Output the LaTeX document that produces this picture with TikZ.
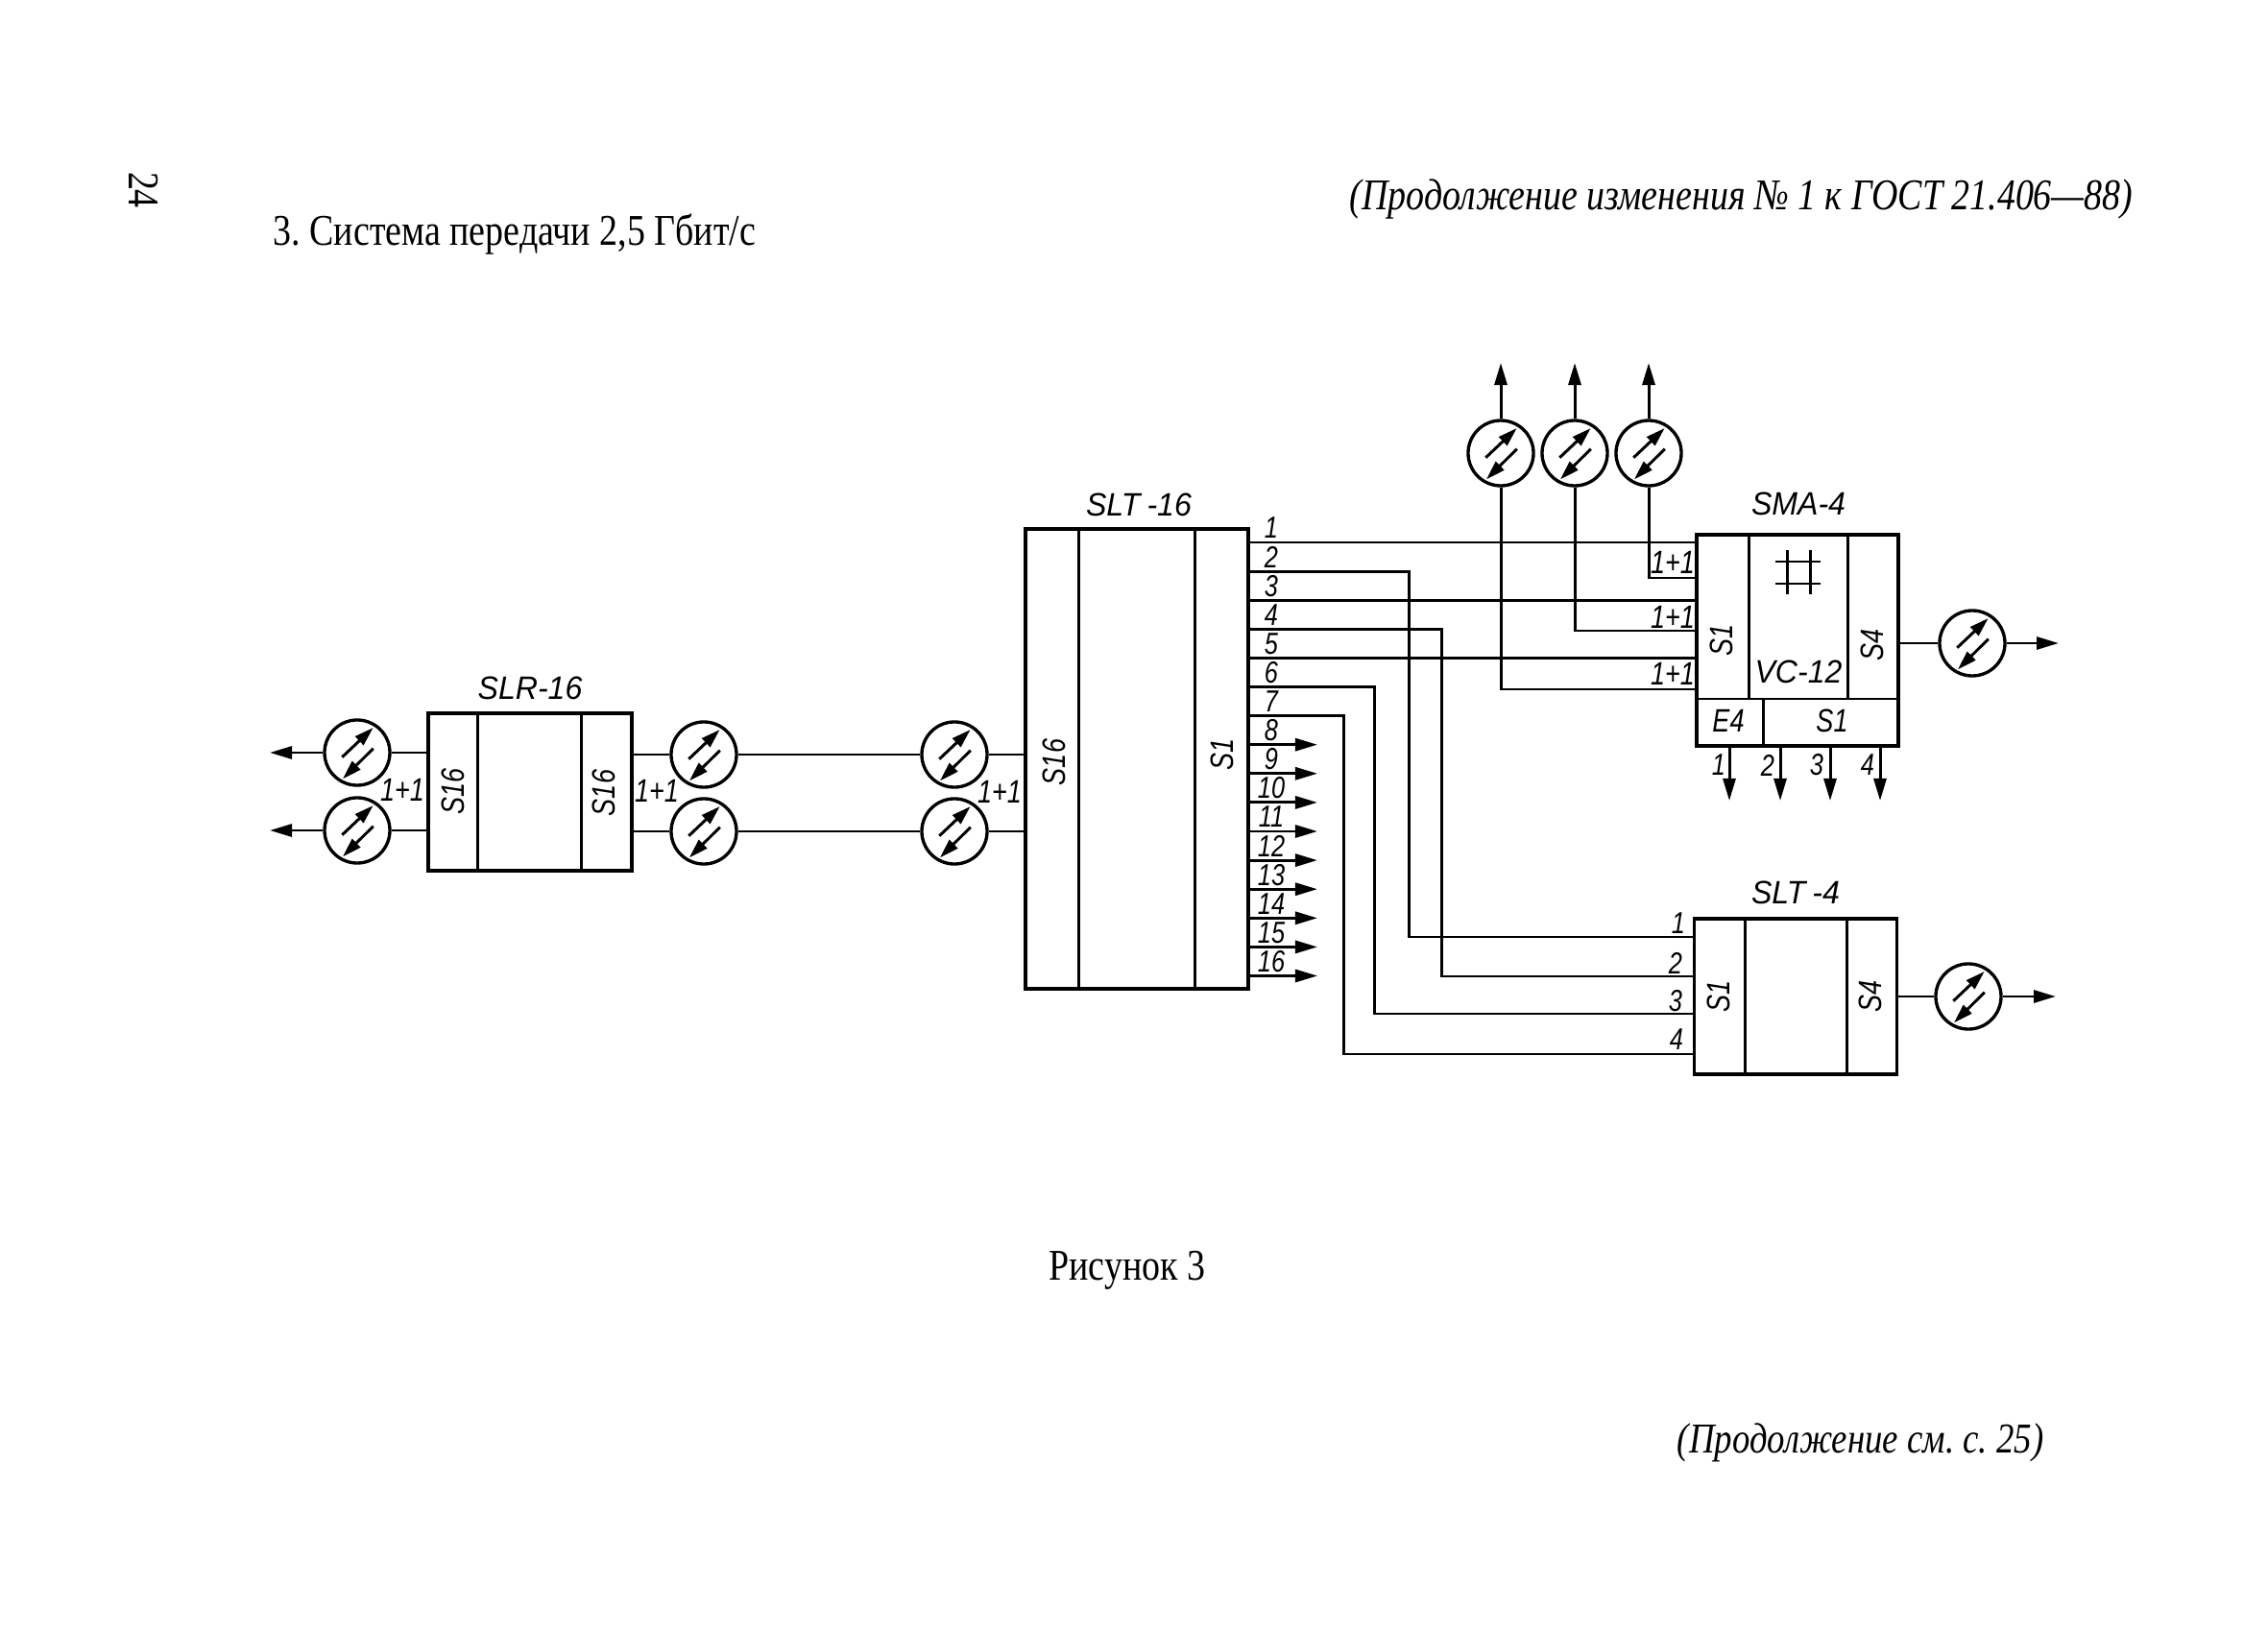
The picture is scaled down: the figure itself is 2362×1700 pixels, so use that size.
\documentclass[tikz,border=0pt]{standalone}
\usepackage{fontspec}
\setmainfont[FakeStretch=0.83]{Liberation Serif}
\newfontfamily\gostfont[FakeStretch=0.8]{Liberation Sans}
\newfontfamily\gostwide[FakeStretch=0.95]{Liberation Sans}
\usetikzlibrary{arrows.meta,calc}
\frenchspacing

\tikzset{
	>={Triangle[length=.23cm,width=.13cm]},
	block/.style = {draw, rectangle, inner sep=0pt, line width=.95pt},
	wire/.style = {line width=.85pt},
	lettering/.style = {inner sep=0pt, font=\gostfont\itshape\fontsize{9.6}{10}\selectfont},
	blockname/.style = {inner sep=0pt, font=\gostwide\itshape\fontsize{9.6}{10}\selectfont},
	numlabel/.style = {inner sep=0pt, font=\gostfont\itshape\fontsize{9}{9}\selectfont},
	pagetext/.style = {inner sep=0pt, font=\fontsize{13}{15}\selectfont},
	pageitalic/.style = {inner sep=0pt, font=\fontsize{13}{15}\selectfont\itshape},
	converter/.style = {draw, circle, inner sep=0pt, minimum size=.68cm, line width=.95pt, path picture={
		\draw[wire, ->, >={Triangle[length=.2cm,width=.12cm]}] ([shift={(-15.7,4.7)}]path picture bounding box.center) -- ([shift={(16.7,-26)}]path picture bounding box.center);
		\draw[wire, ->, >={Triangle[length=.2cm,width=.12cm]}] ([shift={(16.7,-4.3)}]path picture bounding box.center) -- ([shift={(-15,27.3)}]path picture bounding box.center);
	}},
}

\begin{document}
\begin{tikzpicture}[x=.01cm, y=-.01cm]
	\useasboundingbox (0,0) rectangle (2362,1700);

	% page text
	\node[pagetext, rotate=-90] (pagenum) at (150,198) {24};
	\node[pageitalic, anchor=east] (header) at (2222,208) {(Продолжение изменения № 1 к ГОСТ 21.406—88)};
	\node[pagetext, anchor=west] (title) at (284,244) {3. Система передачи 2,5 Гбит/с};
	\node[pagetext] (caption) at (1174,1323) {Рисунок 3};
	\node[pageitalic, anchor=east, font=\fontsize{12.6}{15}\selectfont\itshape] (contd) at (2129,1503) {(Продолжение см. с. 25)};

	% regenerator
	\node[block, minimum width=2.12cm, minimum height=1.64cm] (slr) at (552,825) {};
	\draw[wire] ([xshift=.53cm]slr.north west) -- ([xshift=.53cm]slr.south west);
	\draw[wire] ([xshift=-.54cm]slr.north east) -- ([xshift=-.54cm]slr.south east);
	\node[blockname] (slrname) at (552,717) {SLR-16};
	\node[lettering, rotate=90] (slrwest) at (472,824) {S16};
	\node[lettering, rotate=90] (slreast) at (629,826) {S16};
	\node[lettering] (prota) at (419,823) {1+1};
	\node[lettering] (protb) at (684,824) {1+1};

	% line terminal 16
	\node[block, minimum width=2.32cm, minimum height=4.79cm] (slta) at (1184,790.5) {};
	\draw[wire] ([xshift=.57cm]slta.north west) -- ([xshift=.57cm]slta.south west);
	\draw[wire] ([xshift=-.57cm]slta.north east) -- ([xshift=-.57cm]slta.south east);
	\node[blockname] (sltaname) at (1186,526) {SLT\kern2pt-16};
	\node[lettering, rotate=90] (sltawest) at (1098,794) {S16};
	\node[lettering, rotate=90] (sltaeast) at (1273,786) {S1};
	\node[lettering] (protc) at (1041,825) {1+1};

	% optical converters of the line side
	\node[converter] (conva) at (372,784) {};
	\node[converter] (convb) at (372,865) {};
	\node[converter] (convc) at (733,786) {};
	\node[converter] (convd) at (733,866) {};
	\node[converter] (conve) at (994,786) {};
	\node[converter] (convf) at (994,866) {};
	\coordinate (tipa) at (281,784);
	\coordinate (tipb) at (281,865);
	\draw[wire, ->] (conva) -- (tipa);
	\draw[wire, ->] (convb) -- (tipb);
	\draw[wire] (conva) -- (conva -| slr.west);
	\draw[wire] (convb) -- (convb -| slr.west);
	\draw[wire] (convc) -- (convc -| slr.east);
	\draw[wire] (convd) -- (convd -| slr.east);
	\draw[wire] (convc) -- (conve);
	\draw[wire] (convd) -- (convf);
	\draw[wire] (conve) -- (conve -| slta.west);
	\draw[wire] (convf) -- (convf -| slta.west);

	% tributary ports
	\foreach \n in {1,...,16} {
		\pgfmathsetmacro{\porty}{565+30.1*(\n-1)}
		\coordinate (port\n) at (1300,\porty);
		\coordinate (tip\n) at (1372,\porty);
		\node[numlabel] (num\n) at (1324,\porty-15) {\n};
	}
	\foreach \n in {8,...,16} {
		\draw[wire, ->] (port\n) -- (tip\n);
	}

	% multiplexer
	\node[block, minimum width=2.10cm, minimum height=2.20cm] (sma) at (1872,667) {};
	\coordinate (smabase) at (1767,728);
	\draw[wire] (smabase) -- (smabase -| sma.east);
	\draw[wire] (1821,557) -- (1821,728);
	\draw[wire] (1924,557) -- (1924,728);
	\draw[wire] (1836,728) -- (1836,777);
	\node[blockname] (smaname) at (1873,525) {SMA-4};
	\node[lettering, rotate=90] (smawest) at (1793,667) {S1};
	\node[lettering, rotate=90] (smaeast) at (1950,672) {S4};
	\node[blockname] (smavc) at (1873,700) {VC-12};
	\node[lettering] (smae) at (1800,751) {E4};
	\node[lettering] (smas) at (1908,751) {S1};
	\node[lettering] (protd) at (1742,586) {1+1};
	\node[lettering] (prote) at (1742,643) {1+1};
	\node[lettering] (protf) at (1742,702) {1+1};
	% cross-connect mark
	\draw[wire] (1861,573) -- (1861,619);
	\draw[wire] (1885,573) -- (1885,619);
	\draw[wire] (1849,585) -- (1896,585);
	\draw[wire] (1849,608) -- (1896,608);

	\draw[wire] (port1) -- (port1 -| sma.west);
	\draw[wire] (port3) -- (port3 -| sma.west);
	\draw[wire] (port5) -- (port5 -| sma.west);

	\node[converter] (convg) at (1563,472) {};
	\node[converter] (convh) at (1640,472) {};
	\node[converter] (convi) at (1717,472) {};
	\node[converter] (convj) at (2054,670) {};
	\coordinate (tipg) at (1563,378);
	\coordinate (tiph) at (1640,378);
	\coordinate (tipi) at (1717,378);
	\coordinate (tipj) at (2144,670);
	\draw[wire, ->] (convg) -- (tipg);
	\draw[wire, ->] (convh) -- (tiph);
	\draw[wire, ->] (convi) -- (tipi);
	\draw[wire, ->] (convj) -- (tipj);
	\draw[wire] (convj) -- (convj -| sma.east);
	\draw[wire] (convg) |- (sma.west |- 0,718);
	\draw[wire] (convh) |- (sma.west |- 0,657);
	\draw[wire] (convi) |- (sma.west |- 0,602);

	% E1 outputs
	\foreach \n/\x/\lx in {1/1801/1790, 2/1854/1841, 3/1906/1892, 4/1958/1945} {
		\coordinate (smaout\n) at (\x,777);
		\coordinate (smatip\n) at (\x,834);
		\draw[wire, ->] (smaout\n) -- (smatip\n);
		\node[numlabel] (smanum\n) at (\lx,797) {\n};
	}

	% line terminal 4
	\node[block, minimum width=2.11cm, minimum height=1.62cm] (sltb) at (1870,1038) {};
	\draw[wire] ([xshift=.55cm]sltb.north west) -- ([xshift=.55cm]sltb.south west);
	\draw[wire] ([xshift=-.535cm]sltb.north east) -- ([xshift=-.535cm]sltb.south east);
	\node[blockname] (sltbname) at (1870,930) {SLT\kern2pt-4};
	\node[lettering, rotate=90] (sltbwest) at (1790,1038) {S1};
	\node[lettering, rotate=90] (sltbeast) at (1948,1038) {S4};
	\node[numlabel] (inum1) at (1748,962) {1};
	\node[numlabel] (inum2) at (1745,1003) {2};
	\node[numlabel] (inum3) at (1745,1043) {3};
	\node[numlabel] (inum4) at (1746,1083) {4};

	\draw[wire] (port2) -| (1467,976) -- (sltb.west |- 0,976);
	\draw[wire] (port4) -| (1501,1017) -- (sltb.west |- 0,1017);
	\draw[wire] (port6) -| (1431,1056) -- (sltb.west |- 0,1056);
	\draw[wire] (port7) -| (1399,1098) -- (sltb.west |- 0,1098);

	\node[converter] (convk) at (2050,1038) {};
	\coordinate (tipk) at (2141,1038);
	\draw[wire, ->] (convk) -- (tipk);
	\draw[wire] (convk) -- (sltb.east);
\end{tikzpicture}
\end{document}
